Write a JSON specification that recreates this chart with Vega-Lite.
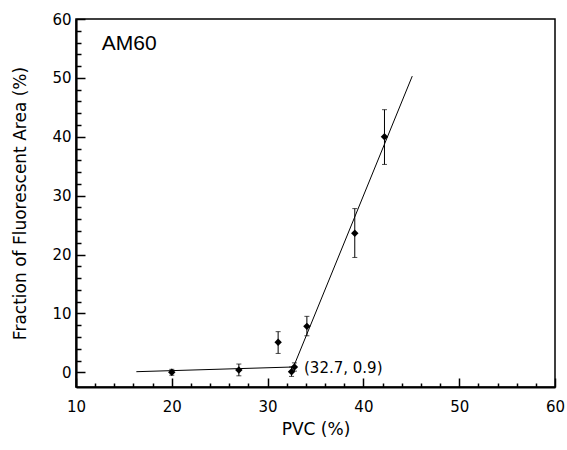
{
  "$schema": "https://vega.github.io/schema/vega-lite/v6.json",
  "width": 479,
  "height": 368,
  "autosize": {"type": "none"},
  "padding": {"left": 76, "top": 19, "right": 12, "bottom": 63},
  "background": "white",
  "config": {
    "view": {"stroke": "black", "strokeWidth": 1.5},
    "axis": {
      "domainColor": "black",
      "domainWidth": 2.2,
      "tickColor": "black",
      "tickWidth": 1.5,
      "grid": false,
      "labelFont": "DejaVu Sans",
      "labelFontSize": 15,
      "labelColor": "black",
      "titleFont": "DejaVu Sans",
      "titleFontSize": 17,
      "titleFontWeight": "normal",
      "titleColor": "black"
    }
  },
  "datasets": {
    "pts": [
      {"x": 20.0, "y": 0.0},
      {"x": 27.0, "y": 0.4},
      {"x": 31.1, "y": 5.1},
      {"x": 32.5, "y": 0.1},
      {"x": 32.8, "y": 0.9},
      {"x": 34.1, "y": 7.8},
      {"x": 39.1, "y": 23.6},
      {"x": 42.2, "y": 40.0}
    ],
    "errs": [
      {"x": 20.0, "y": -0.5, "y2": 0.5},
      {"x": 27.0, "y": -0.6, "y2": 1.4},
      {"x": 31.1, "y": 3.2, "y2": 6.9},
      {"x": 32.5, "y": -0.7, "y2": 0.9},
      {"x": 32.8, "y": 0.2, "y2": 1.6},
      {"x": 34.1, "y": 6.2, "y2": 9.5},
      {"x": 39.1, "y": 19.5, "y2": 27.8},
      {"x": 42.2, "y": 35.3, "y2": 44.6}
    ],
    "caps": [
      {"x": 20.0, "y": -0.5}, {"x": 20.0, "y": 0.5},
      {"x": 27.0, "y": -0.6}, {"x": 27.0, "y": 1.4},
      {"x": 31.1, "y": 3.2}, {"x": 31.1, "y": 6.9},
      {"x": 32.5, "y": -0.7}, {"x": 32.5, "y": 0.9},
      {"x": 32.8, "y": 0.2}, {"x": 32.8, "y": 1.6},
      {"x": 34.1, "y": 6.2}, {"x": 34.1, "y": 9.5},
      {"x": 39.1, "y": 19.5}, {"x": 39.1, "y": 27.8},
      {"x": 42.2, "y": 35.3}, {"x": 42.2, "y": 44.6}
    ],
    "fits": [
      {"x": 16.3, "y": 0.1, "x2": 32.7, "y2": 0.9},
      {"x": 32.7, "y": 0.9, "x2": 45.1, "y2": 50.3}
    ],
    "labels": [
      {"x": 12.7, "y": 55.7, "t": "AM60", "kind": "title"},
      {"x": 33.8, "y": 0.7, "t": "(32.7, 0.9)", "kind": "note"}
    ]
  },
  "encoding": {
    "x": {
      "field": "x",
      "type": "quantitative",
      "scale": {"domain": [10, 60], "nice": false, "zero": false},
      "axis": {
        "title": "PVC (%)",
        "values": [10, 12, 14, 16, 18, 20, 22, 24, 26, 28, 30, 32, 34, 36, 38, 40, 42, 44, 46, 48, 50, 52, 54, 56, 58, 60],
        "labelExpr": "datum.value % 10 === 0 ? datum.label : ''",
        "tickSize": {"condition": {"test": "datum.value % 10 === 0", "value": -9}, "value": -4},
        "labelOverlap": false,
        "labelBound": false,
        "labelPadding": 21,
        "titlePadding": 2,
        "labelFlush": false
      }
    },
    "y": {
      "field": "y",
      "type": "quantitative",
      "scale": {"domain": [-2.5, 60], "nice": false, "zero": false},
      "axis": {
        "title": "Fraction of Fluorescent Area (%)",
        "values": [0, 2, 4, 6, 8, 10, 12, 14, 16, 18, 20, 22, 24, 26, 28, 30, 32, 34, 36, 38, 40, 42, 44, 46, 48, 50, 52, 54, 56, 58, 60],
        "labelExpr": "datum.value % 10 === 0 ? datum.label : ''",
        "tickSize": {"condition": {"test": "datum.value % 10 === 0", "value": -9}, "value": -5},
        "labelOverlap": false,
        "labelBound": false,
        "labelPadding": 14,
        "titlePadding": 22,
        "labelFlush": false
      }
    }
  },
  "layer": [
    {
      "data": {"name": "fits"},
      "mark": {"type": "rule", "color": "black", "strokeWidth": 1},
      "encoding": {
        "x2": {"field": "x2"},
        "y2": {"field": "y2"}
      }
    },
    {
      "data": {"name": "errs"},
      "mark": {"type": "rule", "color": "black", "strokeWidth": 1},
      "encoding": {
        "y2": {"field": "y2"}
      }
    },
    {
      "data": {"name": "caps"},
      "mark": {"type": "tick", "orient": "horizontal", "color": "black", "size": 5, "thickness": 1},
      "encoding": {}
    },
    {
      "data": {"name": "pts"},
      "mark": {"type": "point", "shape": "diamond", "filled": true, "color": "black", "size": 55, "opacity": 1},
      "encoding": {}
    },
    {
      "data": {"name": "labels"},
      "transform": [{"filter": "datum.kind === 'title'"}],
      "mark": {"type": "text", "align": "left", "baseline": "middle", "font": "Liberation Sans", "fontSize": 21, "color": "black"},
      "encoding": {
        "text": {"field": "t"}
      }
    },
    {
      "data": {"name": "labels"},
      "transform": [{"filter": "datum.kind === 'note'"}],
      "mark": {"type": "text", "align": "left", "baseline": "middle", "font": "DejaVu Sans", "fontSize": 15, "color": "black"},
      "encoding": {
        "text": {"field": "t"}
      }
    }
  ]
}
